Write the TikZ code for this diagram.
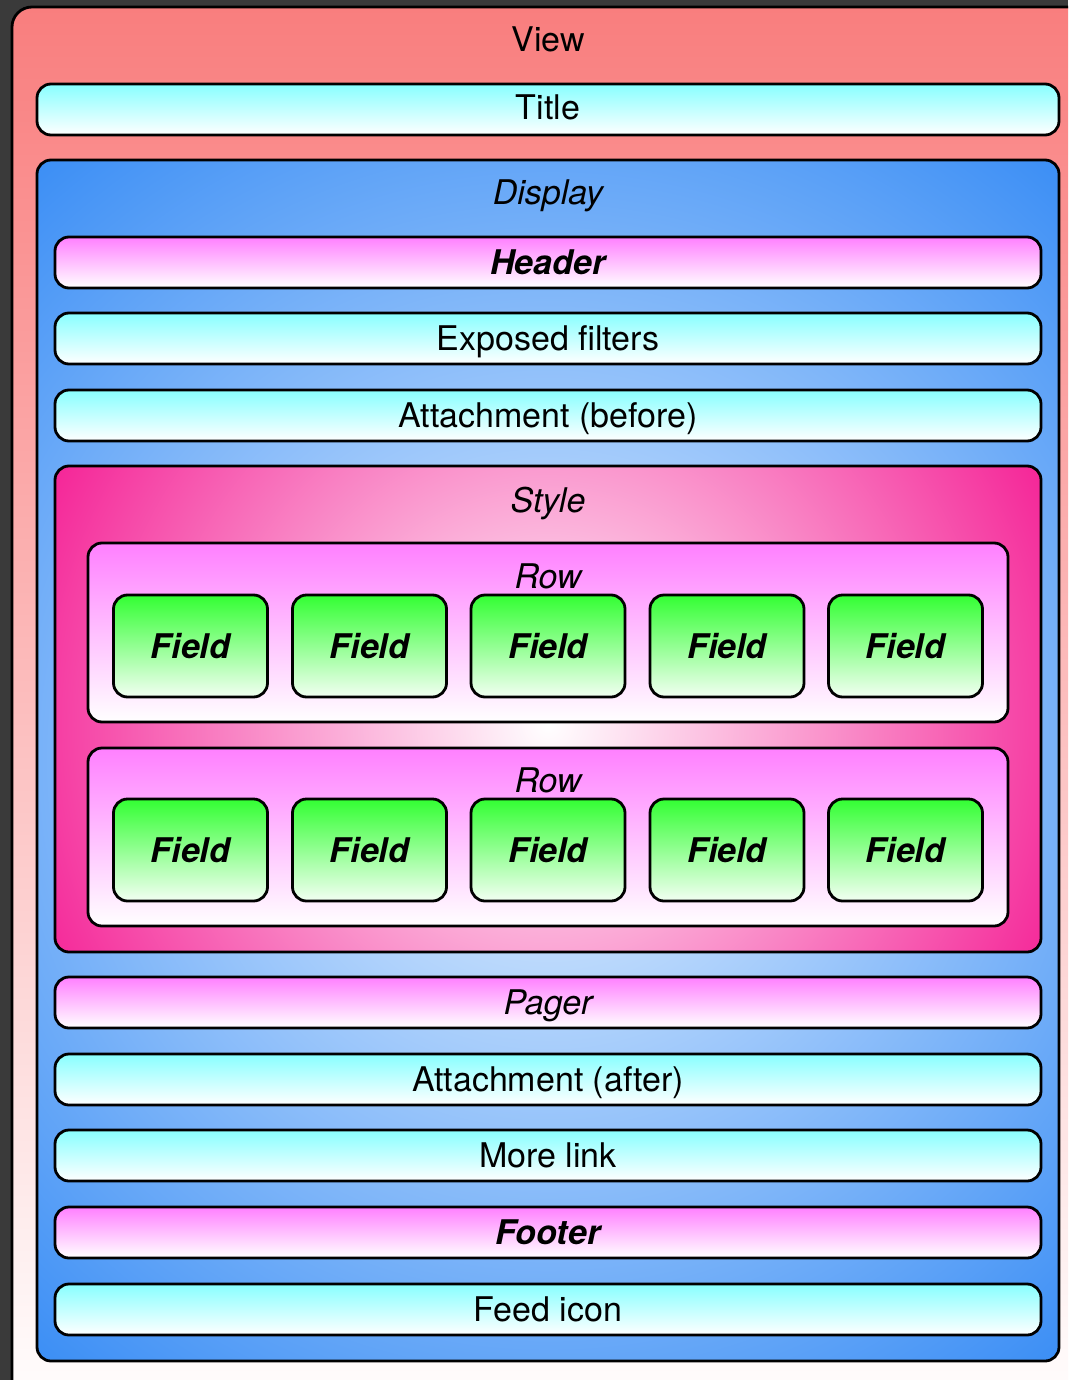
\documentclass[tikz,border=0pt]{standalone}
\usepackage{fontspec}
\setmainfont{TeX Gyre Heros}
\definecolor{bgdark}{HTML}{3A3A3A}
\definecolor{viewtop}{HTML}{F97E7E}
\definecolor{cyantop}{HTML}{88FFFF}
\definecolor{magtop}{HTML}{FF80FF}
\definecolor{greentop}{HTML}{33FF33}
\definecolor{greenbot}{HTML}{F2FFF2}
\definecolor{dispin}{HTML}{E6F2FF}
\definecolor{dispout}{HTML}{3B8EF5}
\definecolor{styleout}{HTML}{F41C93}
\tikzset{
  box/.style={rectangle, draw=black, line width=2.8pt, rounded corners=14pt, inner sep=0pt, outer sep=0pt},
  cyanbar/.style={box, top color=cyantop, bottom color=white, minimum width=986pt, minimum height=51pt},
  magbar/.style={box, top color=magtop, bottom color=white, minimum width=986pt, minimum height=51pt},
  rowbox/.style={box, top color=magtop, bottom color=white, minimum width=920pt, minimum height=179pt},
  fieldbox/.style={box, top color=greentop, bottom color=greenbot, minimum width=154pt, minimum height=102pt},
  txt/.style={anchor=base, inner sep=0pt, font=\fontsize{34pt}{40pt}\selectfont},
  itxt/.style={txt, font=\fontsize{34pt}{40pt}\selectfont\itshape},
  btxt/.style={txt, font=\fontsize{34pt}{40pt}\selectfont\bfseries\itshape},
}
\begin{document}
\begin{tikzpicture}[x=1pt,y=-1pt]
\useasboundingbox (0,0) rectangle (1068,1380);
\clip (0,0) rectangle (1068,1380);
\fill[bgdark] (0,0) rectangle (1068,1380);
% View
\node[box, rounded corners=20pt, top color=viewtop, bottom color=white, minimum width=1088pt, minimum height=1413pt] (viewbox) at (556,713.5) {};
\node[txt] (viewlbl) at (548,52) {View};
% Title
\node[box, top color=cyantop, bottom color=white, minimum width=1022pt, minimum height=51pt] (titlebox) at (548,109.5) {};
\node[txt] (titlelbl) at (548,120) {Title};
% Display
\node[box, minimum width=1022pt, minimum height=1201pt,
  path picture={\shade[inner color=dispin, outer color=dispout] (path picture bounding box.center) circle (790pt);}] (displaybox) at (548,760.5) {};
\node[itxt] (displaylbl) at (548,205) {Display};
% Header
\node[magbar] (headerbox) at (548,262.5) {};
\node[btxt] (headerlbl) at (548,274) {Header};
% Exposed filters
\node[cyanbar] (exposedbox) at (548,338.5) {};
\node[txt] (exposedlbl) at (548,350) {Exposed filters};
% Attachment before
\node[cyanbar] (attbeforebox) at (548,415.5) {};
\node[txt] (attbeforelbl) at (548,427) {Attachment (before)};
% Style
\node[box, minimum width=986pt, minimum height=486pt,
  path picture={\shade[inner color=white, outer color=styleout] ([yshift=-15pt]path picture bounding box.center) circle (580pt);}] (stylebox) at (548,709) {};
\node[itxt] (stylelbl) at (548,512) {Style};
% Rows
\node[rowbox] (rowa) at (548,632.5) {};
\node[itxt] (rowalbl) at (548,588) {Row};
\node[rowbox, minimum height=178pt] (rowb) at (548,837) {};
\node[itxt] (rowblbl) at (548,792) {Row};
% Fields
\foreach \i/\x in {1/190.5,2/369.5,3/548,4/727,5/905.5}{
  \node[fieldbox] (fa\i) at (\x,646) {};
  \node[btxt] (fa\i lbl) at (\x,658) {Field};
  \node[fieldbox] (fb\i) at (\x,850) {};
  \node[btxt] (fb\i lbl) at (\x,862) {Field};
}
% Pager
\node[magbar] (pagerbox) at (548,1002.5) {};
\node[itxt] (pagerlbl) at (548,1014) {Pager};
% Attachment after
\node[cyanbar] (attafterbox) at (548,1079.5) {};
\node[txt] (attafterlbl) at (548,1091) {Attachment (after)};
% More link
\node[cyanbar] (morebox) at (548,1155.5) {};
\node[txt] (morelbl) at (548,1167) {More link};
% Footer
\node[magbar] (footerbox) at (548,1232.5) {};
\node[btxt] (footerlbl) at (548,1244) {Footer};
% Feed icon
\node[cyanbar] (feedbox) at (548,1309.5) {};
\node[txt] (feedlbl) at (548,1321) {Feed icon};
\end{tikzpicture}
\end{document}
